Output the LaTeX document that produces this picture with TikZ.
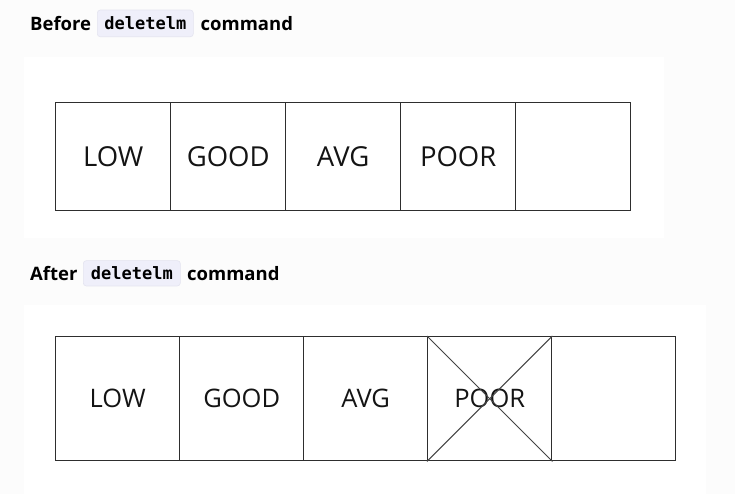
\documentclass[tikz,border=0pt]{standalone}
\usepackage{fontspec}
\setmainfont{Open Sans}
\newfontfamily\headfont{Open Sans}
\newfontfamily\codefont{DejaVu Sans Mono}
\definecolor{pagebg}{HTML}{FCFCFC}
\definecolor{codebg}{HTML}{EFEFFA}
\definecolor{codeborder}{HTML}{E4E4F0}
\definecolor{cellline}{HTML}{2E2E2E}
\definecolor{crossline}{HTML}{444444}
\definecolor{celltext}{HTML}{141414}
\begin{document}
\begin{tikzpicture}[x=1pt,y=-1pt,
  head/.style={inner sep=0pt,font=\headfont\bfseries\fontsize{18.5}{22}\selectfont,text=black,anchor=base west},
  code/.style={inner sep=0pt,fill=codebg,draw=codeborder,line width=0.6pt,rounded corners=3pt,font=\codefont\bfseries\fontsize{17}{20}\selectfont,text=black},
  cellA/.style={draw=cellline,line width=1.4pt,inner sep=0pt,minimum width=115pt,minimum height=108pt,font=\fontsize{27.5}{32}\selectfont,text=celltext},
  cellB/.style={draw=cellline,line width=1.4pt,inner sep=0pt,minimum width=124pt,minimum height=124pt,font=\fontsize{25.5}{30}\selectfont,text=celltext},
  cross/.style={draw=crossline,line width=1pt}]
\useasboundingbox (0,0) rectangle (735,494);
\fill[pagebg] (0,0) rectangle (735,494);
\fill[white] (24,57) rectangle (664,238);
\fill[white] (24,305) rectangle (706,494);
% headings
\node[head] (h1a) at (30,30.7) {Before};
\node[code,minimum width=96pt,minimum height=26.7pt] (h1b) at (145.3,23.4) {deletelm};
\node[head] (h1c) at (200.5,30.7) {command};
\node[head] (h2a) at (30,280.5) {After};
\node[code,minimum width=97pt,minimum height=25.3pt] (h2b) at (131.8,273.3) {deletelm};
\node[head] (h2c) at (187,280.5) {command};
% before cells
\node[cellA] (a1) at (113.2,156.3) {LOW};
\node[cellA] (a2) at (228.2,156.3) {GOOD};
\node[cellA] (a3) at (343.2,156.3) {AVG};
\node[cellA] (a4) at (458.2,156.3) {POOR};
\node[cellA] (a5) at (573.2,156.3) {};
% after cells
\node[cellB] (b1) at (117.7,398.7) {LOW};
\node[cellB] (b2) at (241.7,398.7) {GOOD};
\node[cellB] (b3) at (365.7,398.7) {AVG};
\node[cellB] (b4) at (489.7,398.7) {POOR};
\node[cellB] (b5) at (613.7,398.7) {};
\draw[cross] (b4.north west) -- (b4.south east);
\draw[cross] (b4.north east) -- (b4.south west);
\end{tikzpicture}
\end{document}
